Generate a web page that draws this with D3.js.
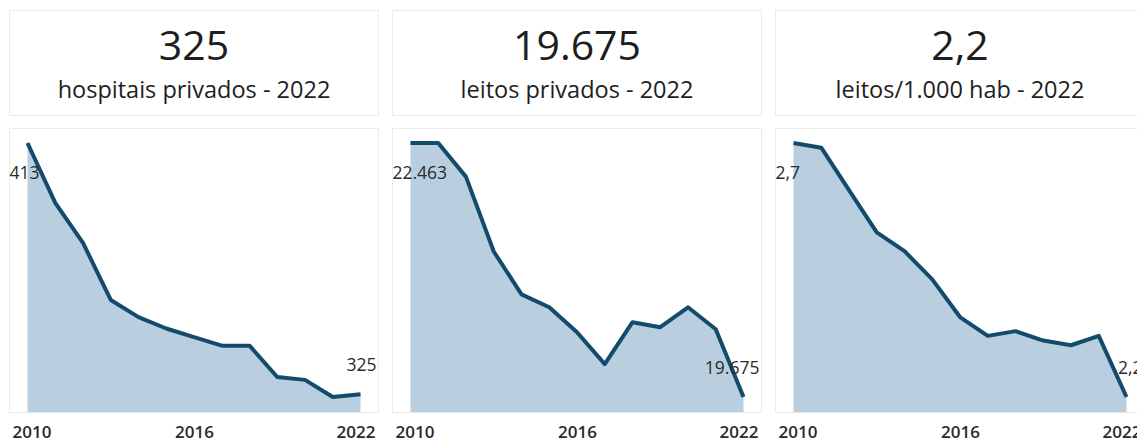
<!DOCTYPE html>
<html>
<head>
<meta charset="utf-8">
<script src="https://cdn.jsdelivr.net/npm/d3@7"></script>
<style>
  html, body { margin: 0; padding: 0; background: #fff; }
  svg { display: block; font-family: "Open Sans", sans-serif; }
</style>
</head>
<body>
<svg id="chart" width="1137" height="443"></svg>
<script>
  // Data
  const years = [2010, 2011, 2012, 2013, 2014, 2015, 2016, 2017, 2018, 2019, 2020, 2021, 2022];
  const hospitais = [413, 392, 378, 358, 352, 348, 345, 342, 342, 331, 330, 324, 325];
  const leitos = [22463, 22463, 22091, 21272, 20802, 20660, 20386, 20036, 20496, 20441, 20660, 20419, 19675];
  const leitosHab = [2.72, 2.71, 2.62, 2.53, 2.49, 2.43, 2.35, 2.31, 2.32, 2.30, 2.29, 2.31, 2.18];
  const tickYears = [2010, 2016, 2022];
  const headlines = ['325', '19.675', '2,2'];
  const subtitles = ['hospitais privados - 2022', 'leitos privados - 2022', 'leitos/1.000 hab - 2022'];

  const ptBR = d3.formatLocale({ decimal: ',', thousands: '.', grouping: [3], currency: ['R$', ''] });
  const formats = [ptBR.format(',.0f'), ptBR.format(',.0f'), ptBR.format(',.1f')];
  const series = [hospitais, leitos, leitosHab];

  const svg = d3.select('#chart');
  const panelW = 370, gap = 13, left0 = 9;
  const header = { top: 10, bottom: 115 };
  const card = { top: 128, bottom: 412 };
  const padX = 18.5;

  series.forEach((values, i) => {
    const x0 = left0 + i * (panelW + gap);
    const g = svg.append('g').attr('transform', `translate(${x0},0)`);

    // Header card
    g.append('rect')
      .attr('x', 0.5).attr('y', header.top + 0.5)
      .attr('width', panelW - 1).attr('height', header.bottom - header.top)
      .attr('fill', '#fff').attr('stroke', '#ebebeb');

    g.append('text')
      .attr('x', panelW / 2).attr('y', 60)
      .attr('text-anchor', 'middle')
      .attr('font-size', 41).attr('fill', '#1e1e1e')
      .text(headlines[i]);

    g.append('text')
      .attr('x', panelW / 2).attr('y', 98)
      .attr('text-anchor', 'middle')
      .attr('font-size', 23.5).attr('fill', '#1e1e1e')
      .text(subtitles[i]);

    // Chart card
    g.append('rect')
      .attr('x', 0.5).attr('y', card.top + 0.5)
      .attr('width', panelW - 1).attr('height', card.bottom - card.top)
      .attr('fill', '#fff').attr('stroke', '#ebebeb');

    const x = d3.scaleLinear()
      .domain(d3.extent(years))
      .range([padX, panelW - padX]);
    const y = d3.scaleLinear()
      .domain(d3.extent(values))
      .range([397, 143]);

    const data = years.map((yr, k) => ({ year: yr, value: values[k] }));

    g.append('path')
      .datum(data)
      .attr('fill', '#b9cfdf')
      .attr('d', d3.area()
        .x(d => x(d.year))
        .y0(card.bottom)
        .y1(d => y(d.value)));

    g.append('path')
      .datum(data)
      .attr('fill', 'none')
      .attr('stroke', '#134b6c')
      .attr('stroke-width', 4)
      .attr('stroke-linejoin', 'round')
      .attr('d', d3.line()
        .x(d => x(d.year))
        .y(d => y(d.value)));

    // First / last value labels
    const first = data[0], last = data[data.length - 1];
    g.append('text')
      .attr('text-anchor', 'start')
      .attr('font-size', 17.5).attr('fill', '#2a2a2a')
      .attr('x', x(first.year) - 18)
      .attr('y', y(first.value) + 36)
      .text(formats[i](first.value));

    g.append('text')
      .attr('text-anchor', 'end')
      .attr('font-size', 17.5).attr('fill', '#2a2a2a')
      .attr('x', x(last.year) + 16)
      .attr('y', y(last.value) - 23)
      .text(formats[i](last.value));

    // X axis
    const axis = g.append('g')
      .attr('transform', `translate(0,${card.bottom})`)
      .call(d3.axisBottom(x).tickValues(tickYears).tickSize(0).tickPadding(0).tickFormat(d3.format('d')));
    axis.select('.domain').remove();
    axis.selectAll('text')
      .attr('font-family', '"Open Sans", sans-serif')
      .attr('font-size', 17).attr('font-weight', 600)
      .attr('fill', '#2a2a2a')
      .attr('dy', 0).attr('y', 26)
      .each(function(d) {
        const w = this.getComputedTextLength();
        const cx = Math.min(Math.max(x(d), 3 + w / 2), panelW - 4 - w / 2);
        d3.select(this).attr('x', cx - x(d));
      });
  });
</script>
</body>
</html>
